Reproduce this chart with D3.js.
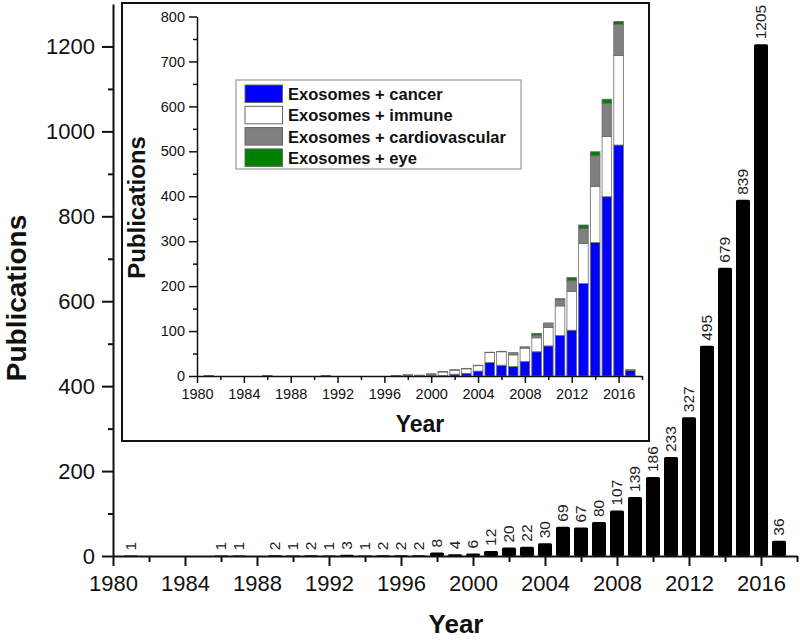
<!DOCTYPE html>
<html><head><meta charset="utf-8">
<script src="https://cdn.jsdelivr.net/npm/d3@7"></script>
<style>
body{margin:0;background:#fff}
svg{display:block}
text{font-family:Arial,"Liberation Sans",Helvetica,sans-serif}
</style>
</head><body>
<svg id="chart" width="800" height="640"></svg>
<script>
// ---- Main chart data ----
const years = [1981,1982,1983,1984,1985,1986,1987,1988,1989,1990,1991,1992,1993,1994,1995,1996,1997,1998,1999,
  2000,2001,2002,2003,2004,2005,2006,2007,2008,2009,2010,2011,2012,2013,2014,2015,2016,2017];
const totals = [1,0,0,0,0,1,1,0,2,1,2,1,3,1,2,2,2,8,4,
  6,12,20,22,30,69,67,80,107,139,186,233,327,495,679,839,1205,36];
const mainXTicks = [1980,1984,1988,1992,1996,2000,2004,2008,2012,2016];
const mainXMinor = [1982,1986,1990,1994,1998,2002,2006,2010,2014,2018];
const mainYTicks = [0,200,400,600,800,1000,1200];
const mainYMinor = [100,300,500,700,900,1100];

// ---- Inset data (stacked) ----
const seriesNames = ["Exosomes + cancer","Exosomes + immune","Exosomes + cardiovascular","Exosomes + eye"];
const cancer = [0,0,0,0,0,0,0,0,0,0,0,0,0,0,0,0,1,2,1,
  0,1,4,6,11,30,24,21,32,54,67,90,102,206,297,399,514,12];
const immune = [1,0,0,0,0,1,0,0,0,0,1,0,0,0,0,0,0,1,1,
  2,8,9,10,12,22,30,26,30,31,41,66,86,89,125,134,199,1];
const cardio = [0,0,0,0,0,0,0,0,0,0,0,0,0,0,0,0,0,0,0,
  3,1,1,1,1,1,1,5,3,6,10,14,24,33,68,74,69,1];
const eye = [0,0,0,0,0,0,0,0,0,0,0,0,0,0,0,0,0,0,0,
  0,0,0,0,0,0,0,0,0,4,0,2,7,8,9,9,7,0];
const seriesColors = ["#0000ff","#ffffff","#808080","#008000"];
const insetXTicks = [1980,1984,1988,1992,1996,2000,2004,2008,2012,2016];
const insetXMinor = [1982,1986,1990,1994,1998,2002,2006,2010,2014,2018];
const insetYTicks = [0,100,200,300,400,500,600,700,800];
const insetYMinor = [50,150,250,350,450,550,650,750];

const svg = d3.select("#chart");
const ink = "#111";
const fmt = d3.format("d");

// ---- Main scales ----
const x = d3.scaleLinear().domain([1980,2018]).range([113,797]);
const y = d3.scaleLinear().domain([0,1300]).range([556,4]);

function styleAxis(g, sw, fs){
  g.selectAll(".domain").attr("stroke",ink).attr("stroke-width",sw);
  g.selectAll(".tick line").attr("stroke",ink).attr("stroke-width",sw);
  g.selectAll(".tick text").attr("fill",ink).style("font-size",fs+"px").style("font-family","Arial, 'Liberation Sans', sans-serif");
}

// main bars
const mainData = years.map((yr,i)=>({year:yr,v:totals[i]})).filter(d=>d.v>0);
svg.append("g").selectAll("rect").data(mainData).join("rect")
  .attr("x",d=>x(d.year)-7).attr("width",14)
  .attr("y",d=>y(d.v)).attr("height",d=>y(0)-y(d.v))
  .attr("rx",1.5).attr("fill","#000");

svg.append("g").selectAll("text").data(mainData).join("text")
  .attr("transform",d=>`translate(${x(d.year)},${y(d.v)-5}) rotate(-90)`)
  .attr("dy","0.35em").attr("text-anchor","start")
  .style("font-size","15.5px").attr("fill","#222")
  .text(d=>d.v);

// main axes
const gx = svg.append("g").attr("transform",`translate(0,${y(0)})`)
  .call(d3.axisBottom(x).tickValues(mainXTicks).tickFormat(fmt).tickSize(10).tickSizeOuter(0).tickPadding(9));
styleAxis(gx,2,22);
const gxm = svg.append("g").attr("transform",`translate(0,${y(0)})`)
  .call(d3.axisBottom(x).tickValues(mainXMinor).tickFormat("").tickSize(6).tickSizeOuter(0));
gxm.select(".domain").remove(); styleAxis(gxm,2,22);

const gy = svg.append("g").attr("transform",`translate(${x(1980)},0)`)
  .call(d3.axisLeft(y).tickValues(mainYTicks).tickFormat(fmt).tickSize(11).tickSizeOuter(0).tickPadding(7));
styleAxis(gy,2,22);
const gym = svg.append("g").attr("transform",`translate(${x(1980)},0)`)
  .call(d3.axisLeft(y).tickValues(mainYMinor).tickFormat("").tickSize(5).tickSizeOuter(0));
gym.select(".domain").remove(); styleAxis(gym,2,22);

svg.append("text").attr("x",456).attr("y",633).attr("text-anchor","middle")
  .style("font-size","26px").style("font-weight","bold").attr("fill",ink).text("Year");
svg.append("text").attr("transform","translate(26,298) rotate(-90)").attr("text-anchor","middle")
  .style("font-size","28px").style("font-weight","bold").attr("fill",ink).text("Publications");

// ---- Inset ----
svg.append("rect").attr("x",122).attr("y",3).attr("width",527).attr("height",438)
  .attr("fill","#fff").attr("stroke","#111").attr("stroke-width",2);

const xi = d3.scaleLinear().domain([1980,2018]).range([197,642]);
const yi = d3.scaleLinear().domain([0,800]).range([376,16.5]);

const table = years.map((yr,i)=>({year:yr,[seriesNames[0]]:cancer[i],[seriesNames[1]]:immune[i],[seriesNames[2]]:cardio[i],[seriesNames[3]]:eye[i]}));
const stacked = d3.stack().keys(seriesNames)(table);
const gi = svg.append("g");
stacked.forEach((layer,k)=>{
  gi.append("g").selectAll("rect").data(layer.filter(d=>d[1]-d[0]>0)).join("rect")
    .attr("x",d=>xi(d.data.year)-4.8).attr("width",9.6)
    .attr("y",d=>yi(d[1])).attr("height",d=>yi(d[0])-yi(d[1]))
    .attr("fill",seriesColors[k]).attr("stroke","#6a6a6a").attr("stroke-width",0.8);
});

const gix = svg.append("g").attr("transform",`translate(0,${yi(0)})`)
  .call(d3.axisBottom(xi).tickValues(insetXTicks).tickFormat(fmt).tickSize(7).tickSizeOuter(0).tickPadding(6));
styleAxis(gix,1.5,14.5);
const gixm = svg.append("g").attr("transform",`translate(0,${yi(0)})`)
  .call(d3.axisBottom(xi).tickValues(insetXMinor).tickFormat("").tickSize(4).tickSizeOuter(0));
gixm.select(".domain").remove(); styleAxis(gixm,1.5,14.5);
const giy = svg.append("g").attr("transform",`translate(${xi(1980)},0)`)
  .call(d3.axisLeft(yi).tickValues(insetYTicks).tickFormat(fmt).tickSize(8).tickSizeOuter(0).tickPadding(4));
styleAxis(giy,1.5,14.5);
const giym = svg.append("g").attr("transform",`translate(${xi(1980)},0)`)
  .call(d3.axisLeft(yi).tickValues(insetYMinor).tickFormat("").tickSize(4).tickSizeOuter(0));
giym.select(".domain").remove(); styleAxis(giym,1.5,14.5);

svg.append("text").attr("x",420).attr("y",432).attr("text-anchor","middle")
  .style("font-size","23px").style("font-weight","bold").attr("fill",ink).text("Year");
svg.append("text").attr("transform","translate(145,207.5) rotate(-90)").attr("text-anchor","middle")
  .style("font-size","24px").style("font-weight","bold").attr("fill",ink).text("Publications");

// legend
const lg = svg.append("g");
lg.append("rect").attr("x",236).attr("y",80).attr("width",285).attr("height",89)
  .attr("fill","#fff").attr("stroke","#999").attr("stroke-width",1.2);
seriesNames.forEach((name,i)=>{
  lg.append("rect").attr("x",245).attr("y",85+i*21.3).attr("width",37.5).attr("height",17.5)
    .attr("fill",seriesColors[i]).attr("stroke","#666").attr("stroke-width",1);
  lg.append("text").attr("x",288).attr("y",100+i*21.3)
    .style("font-size","16.5px").style("font-weight","bold").attr("fill",ink).text(name);
});
</script>
</body></html>
